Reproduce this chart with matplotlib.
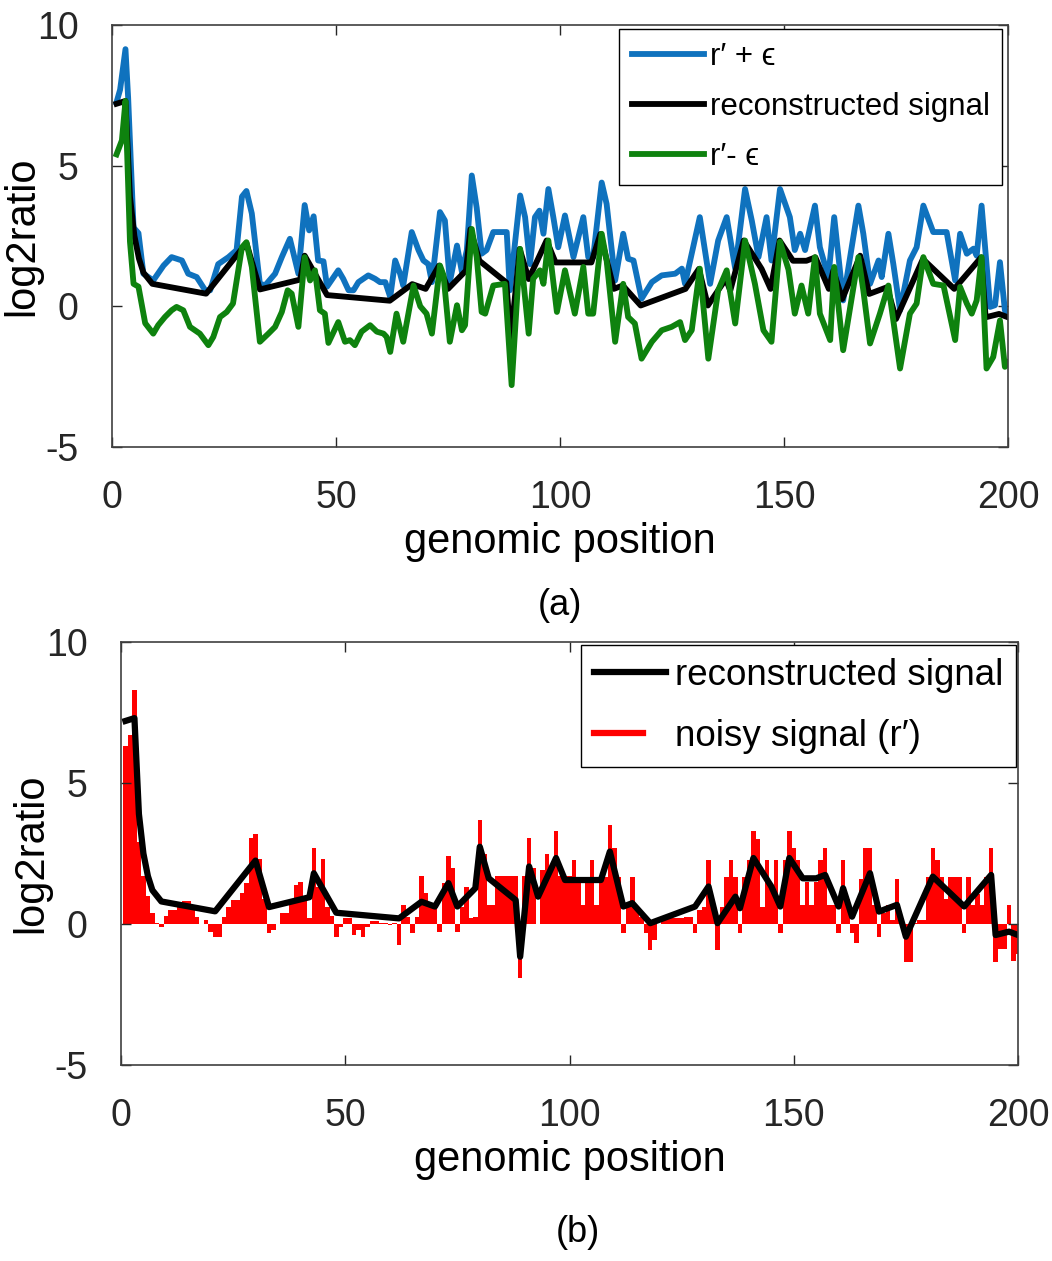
import matplotlib
matplotlib.use('Agg')
import matplotlib.pyplot as plt
from matplotlib.legend_handler import HandlerLine2D
from matplotlib.lines import Line2D

plt.rcParams['font.family'] = ['Liberation Sans', 'DejaVu Sans']
plt.rcParams['axes.unicode_minus'] = False

# ---------------- data ----------------
positions = list(range(1, 201))

noisy_signal = [
    6.3, 6.7, 8.3, 2.9, 1.7, 1.0, 0.4, 0.05, -0.1, 0.3,          # 1-10
    0.5, 0.5, 0.6, 0.8, 0.8, 0.6, 0.26, 0.0, 0.14, -0.27,         # 11-20
    -0.45, -0.45, 0.26, 0.6, 0.85, 0.85, 1.1, 1.45, 3.05, 3.2,    # 21-30
    2.3, 0.9, -0.33, -0.2, 0.0, 0.4, 0.4, 0.7, 1.4, 1.5,          # 31-40
    1.0, 0.2, 2.7, 1.3, 2.3, 0.6, 0.3, -0.45, -0.1, 0.2,          # 41-50
    0.2, -0.4, -0.2, -0.45, -0.1, 0.1, 0.1, 0.05, 0.05, -0.05,    # 51-60
    0.05, -0.75, 0.68, 0.26, -0.33, 0.26, 1.7, 1.1, 0.7, 0.7,     # 61-70
    -0.3, 1.45, 2.4, 2.0, -0.3, 0.6, 1.3, 0.2, 0.25, 3.7,         # 71-80
    2.5, 0.68, 0.68, 1.7, 1.7, 1.7, 1.7, 1.7, -1.93, 1.7,         # 81-90
    3.05, 2.0, 0.0, 1.9, 2.5, 2.0, 3.3, 1.7, 1.7, 1.7,            # 91-100
    2.28, 1.68, 0.68, 1.68, 2.28, 0.68, 1.68, 1.68, 3.5, 2.7,     # 101-110
    1.68, -0.33, 0.68, 1.68, 0.6, 0.26, -0.33, -0.93, -0.57, 0.0, # 111-120
    0.2, 0.2, 0.2, 0.2, 0.2, 0.26, 0.26, -0.33, 0.5, 0.6,         # 121-130
    2.28, 0.5, -0.93, 0.6, 1.68, 2.28, 1.68, -0.33, 1.68, 2.28,   # 131-140
    3.3, 3.0, 0.6, 2.28, 1.27, 2.28, -0.33, 2.28, 3.3, 2.7,       # 141-150
    2.28, 0.68, 1.5, 0.68, 1.5, 2.28, 2.7, 0.68, 0.68, -0.33,     # 151-160
    2.28, 0.9, -0.33, -0.69, 1.6, 2.7, 2.7, 0.68, -0.45, 0.4,     # 161-170
    0.68, 0.15, 1.6, 0.15, -1.34, -1.34, 0.05, 0.15, 0.15, 1.68,  # 171-180
    2.7, 2.28, 1.68, 0.9, 1.68, 1.68, 1.68, -0.33, 1.68, 0.68,    # 181-190
    1.05, 0.68, 1.68, 2.7, -1.34, -0.87, -0.87, 0.68, -1.3, -1.05 # 191-200
]

recon_x = [1, 3, 4, 5, 6, 7, 9, 21, 30, 33, 42, 43, 48, 62, 67, 70, 73, 75,
           79, 80, 82, 88, 89, 91, 93, 97, 99, 107, 109, 112, 114, 118, 128,
           131, 133, 137, 138, 141, 145, 147, 149, 152, 155, 157, 160, 161,
           163, 167, 169, 173, 175, 181, 188, 194, 195, 198, 200]
recon_y = [7.2, 7.3, 3.9, 2.5, 1.7, 1.2, 0.8, 0.45, 2.25, 0.6, 0.95, 1.8, 0.4,
           0.2, 0.79, 0.62, 1.45, 0.62, 1.27, 2.74, 1.62, 0.85, -1.16, 2.04,
           0.97, 2.34, 1.56, 1.56, 2.57, 0.62, 0.74, 0.03, 0.62, 1.33, 0.03,
           0.97, 0.56, 2.34, 1.33, 0.62, 2.34, 1.62, 1.62, 1.74, 0.62, 1.27,
           0.26, 1.8, 0.44, 0.68, -0.45, 1.68, 0.62, 1.74, -0.39, -0.27, -0.39]

upper_x = [1, 1.8, 3, 3.6, 4.8, 5.9, 7, 9.2, 11.5, 13.3, 15.6, 17, 18.9, 20.8,
           21.9, 23.7, 26, 27.8, 29, 30, 31.2, 33, 34.2, 36.4, 37.9, 39.7, 41.6,
           43, 44, 45, 46, 47.2, 48, 50.5, 51.6, 52.8, 53.9, 55, 57.2, 58.7,
           59.8, 61, 62.1, 63.2, 64.3, 65, 66.9, 68.4, 69.5, 70.6, 71.4, 73.2,
           74.3, 75.4, 77, 78.1, 79.2, 80.3, 81.4, 82.5, 83.6, 85.1, 88.1, 88.8,
           91.1, 92.2, 93.3, 94.4, 95.4, 96.3, 97.4, 98.5, 99.6, 101.1, 103,
           105.2, 106.3, 107.4, 109.3, 110.4, 112.3, 114.1, 115.2, 116.4, 118.2,
           120.5, 122.7, 125.7, 127.2, 127.9, 131.2, 133.5, 135.3, 137.2, 139.1,
           141.3, 142.8, 144.3, 146.1, 147.2, 149.1, 151.3, 152.4, 153.6, 154.7,
           156.9, 158, 159.9, 161.2, 163.2, 166.6, 167.7, 169.2, 171.1, 171.8,
           173.3, 174.4, 175.9, 178.1, 179.6, 181.1, 183.3, 186.3, 188.2, 189.3,
           190.8, 192.3, 193, 194.1, 196, 197.1, 198.2, 199.3, 200]
upper_y = [7.25, 7.7, 9.14, 7.4, 2.8, 2.6, 1.16, 0.92, 1.45, 1.75, 1.63, 1.16,
           1.04, 0.57, 0.57, 1.5, 1.75, 2.0, 3.9, 4.1, 3.3, 0.8, 0.75, 1.16, 1.75,
           2.4, 1.16, 3.6, 2.7, 3.2, 1.63, 1.6, 0.7, 1.28, 0.98, 0.57, 0.57, 0.86,
           1.1, 0.98, 0.86, 0.86, 0.33, 1.63, 1.16, 0.74, 2.64, 2.0, 1.63, 1.5,
           0.86, 3.35, 3.05, 0.86, 2.16, 1.22, 2.0, 4.65, 3.5, 1.87, 2.0, 2.64,
           2.64, 0.57, 3.94, 3.17, 1.5, 3.17, 3.4, 2.58, 4.17, 3.17, 2.1, 3.23,
           1.75, 3.17, 1.75, 1.75, 4.4, 3.64, 0.92, 2.58, 1.69, 1.63, 0.27, 0.86,
           1.1, 1.16, 1.34, 0.8, 3.17, 0.8, 2.34, 3.17, 1.34, 4.17, 3.05, 1.75,
           3.17, 1.63, 4.17, 3.17, 2.0, 2.58, 2.0, 3.58, 2.1, 1.04, 3.17, 0.21,
           3.58, 2.58, 0.8, 1.63, 1.04, 2.58, 1.5, -0.14, 1.63, 2.1, 3.58, 2.64,
           2.64, 0.92, 2.58, 1.87, 2.05, 1.8, 3.58, -0.02, 0.04, 1.57, -0.14,
           -0.26]

lower_x = [1, 2.2, 3, 4, 4.8, 5.9, 7.4, 9.2, 10.3, 11.8, 13.3, 14.4, 15.9, 17.4,
           18.5, 19.6, 21.5, 22.6, 24.1, 25.6, 27, 29, 30, 31.2, 33, 34.9, 36.4,
           37.9, 39.2, 40.1, 41.6, 43, 44.2, 45.3, 46.4, 47.5, 48.3, 50.5, 52,
           53.1, 54.2, 55.7, 57.6, 59.1, 60.6, 61.3, 62.1, 63.5, 65, 67.3, 68.8,
           70.2, 71.4, 73.2, 74, 75.4, 77, 78.1, 78.8, 80.3, 81.4, 82.5, 83.3,
           85.1, 87.7, 89.2, 91.1, 93, 94, 95.5, 96.3, 97.4, 99.3, 101.1, 103.3,
           105.2, 106.3, 107.4, 109.3, 110.4, 112.3, 114.1, 115.2, 116.7, 118.2,
           120.5, 122.7, 124.9, 126.8, 127.9, 129.4, 131.2, 133.1, 135.3, 137.2,
           139.1, 141.3, 143.5, 145.4, 147.2, 149.1, 151, 152.4, 153.9, 155.4,
           156.9, 158, 160.3, 161.2, 163.2, 166.6, 167.7, 169.2, 171.4, 173.3,
           175.9, 178.1, 179.6, 181.1, 183.3, 185.6, 188.2, 189.3, 190.8, 191.9,
           193, 194.1, 195.2, 196.7, 198.2, 199.3, 200]
lower_y = [5.4, 5.9, 7.3, 2.3, 0.8, 0.7, -0.6, -0.97, -0.67, -0.38, -0.14, -0.02,
           -0.14, -0.73, -0.85, -0.97, -1.38, -1.09, -0.38, -0.2, 0.1, 2.1, 2.28,
           1.4, -1.26, -0.97, -0.73, -0.2, 0.57, 0.45, -0.73, 1.75, 0.92, 1.28,
           -0.14, -0.26, -1.3, -0.56, -1.26, -1.2, -1.38, -0.9, -0.67, -0.9,
           -0.97, -1.09, -1.62, -0.26, -1.26, 0.74, 0.0, -0.26, -0.97, 1.45, 1.1,
           -1.26, 0.04, -0.85, -0.67, 2.75, 1.75, -0.2, -0.26, 0.74, 0.8, -2.8,
           2.04, -0.97, 0.98, 1.28, 0.8, 2.34, -0.2, 1.28, -0.26, 1.4, -0.26,
           -0.26, 2.58, 1.63, -1.26, 0.8, -0.38, -0.61, -1.86, -1.26, -0.85,
           -0.73, -0.56, -1.2, -0.85, 1.34, -1.86, 0.57, 1.28, -0.61, 2.34, 0.8,
           -0.85, -1.26, 2.3, 1.3, -0.26, 0.74, -0.26, 1.75, -0.26, -1.2, 1.4,
           -1.56, 1.75, 0.57, -1.32, -0.26, 0.74, -2.21, -0.26, 0.1, 1.75, 0.8,
           0.74, -1.2, 0.69, 0.1, -0.26, 0.21, 1.75, -2.21, -1.8, -0.5, -2.15,
           -2.0]

x_ticks = [0, 50, 100, 150, 200]
y_ticks = [-5, 0, 5, 10]

# ---------------- styling ----------------
BLUE = '#0F72BE'
GREEN = '#0E820E'
RED = '#FF0000'
TICK_FS = 27
LABEL_FS = 30
EPS = '\u03f5'


class ShortLineHandler(HandlerLine2D):
    def create_artists(self, legend, orig_handle, xdescent, ydescent,
                       width, height, fontsize, trans):
        return super().create_artists(legend, orig_handle, xdescent, ydescent,
                                      width * 0.68, height, fontsize, trans)


def style_axes(ax):
    ax.set_xlim(0, 200)
    ax.set_ylim(-5, 10)
    ax.set_xticks(x_ticks)
    ax.set_yticks(y_ticks)
    ax.tick_params(direction='in', top=True, right=True, length=7, width=1,
                   colors='#262626', labelsize=TICK_FS)
    ax.tick_params(axis='x', pad=24)
    ax.tick_params(axis='y', pad=24)
    for s in ax.spines.values():
        s.set_linewidth(1.2)
        s.set_color('#404040')
    ax.set_xlabel('genomic position', fontsize=LABEL_FS, labelpad=4)
    ax.set_ylabel('log2ratio', fontsize=LABEL_FS, labelpad=-4)


fig = plt.figure(figsize=(10.52, 12.61), dpi=100)
ax1 = fig.add_axes([0.1065, 0.6455, 0.8517, 0.3347])
ax2 = fig.add_axes([0.115, 0.1554, 0.8527, 0.3355])

# ---- panel (a) ----
ax1.plot(upper_x, upper_y, color=BLUE, lw=4.2, label='r\u2032 + ' + EPS)
ax1.plot(recon_x, recon_y, color='black', lw=4.2, label='reconstructed signal')
ax1.plot(lower_x, lower_y, color=GREEN, lw=4.2, label='r\u2032- ' + EPS)
style_axes(ax1)
leg1 = ax1.legend(loc='upper left', bbox_to_anchor=(0.566, 0.99),
                  borderaxespad=0, fontsize=22.5, handlelength=2.3,
                  handletextpad=0.2, labelspacing=0.65, borderpad=0.4,
                  fancybox=False, framealpha=1, edgecolor='black')
leg1.get_frame().set_linewidth(1.0)

# ---- panel (b) ----
ax2.bar(positions, noisy_signal, width=1.0, color=RED, linewidth=0)
ax2.plot(recon_x, recon_y, color='black', lw=4.5)
style_axes(ax2)
h_black = Line2D([], [], color='black', lw=4.5)
h_red = Line2D([], [], color=RED, lw=4.5)
leg2 = ax2.legend([h_black, h_red],
                  ['reconstructed signal', 'noisy signal (r\u2032)'],
                  handler_map={h_red: ShortLineHandler()},
                  loc='upper left', bbox_to_anchor=(0.513, 0.993),
                  borderaxespad=0, fontsize=26.5, handlelength=1.95,
                  handletextpad=0.25, labelspacing=0.72, borderpad=0.35,
                  fancybox=False, framealpha=1, edgecolor='black')
leg2.get_frame().set_linewidth(1.0)

fig.text(560 / 1052, 1 - 605 / 1261, '(a)', ha='center', va='center',
         fontsize=26)
fig.text(578 / 1052, 1 - 1232 / 1261, '(b)', ha='center', va='center',
         fontsize=26)

fig.savefig('out.png', dpi=100)
